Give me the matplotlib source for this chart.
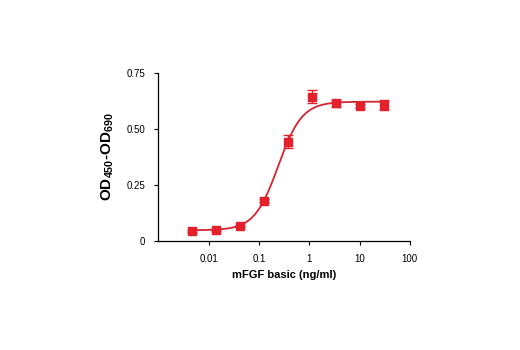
import numpy as np
import matplotlib
matplotlib.use("Agg")
import matplotlib.pyplot as plt

# Data
conc = [0.0046, 0.0137, 0.041, 0.123, 0.37, 1.11, 3.33, 10.0, 30.0]
od = [0.043, 0.049, 0.068, 0.180, 0.443, 0.644, 0.615, 0.604, 0.606]
err = [0.004, 0.003, 0.004, 0.008, 0.030, 0.030, 0.015, 0.008, 0.022]
# 4-parameter logistic fit parameters
fit_bottom = 0.048
fit_top = 0.622
fit_ec50 = 0.238
fit_hill = 1.83
xticks = [0.01, 0.1, 1, 10, 100]
xticklabels = ["0.01", "0.1", "1", "10", "100"]
yticks = [0, 0.25, 0.5, 0.75]
yticklabels = ["0", "0.25", "0.50", "0.75"]

fam = ["Liberation Sans Narrow", "Liberation Sans", "DejaVu Sans"]
plt.rcParams["font.family"] = fam
plt.rcParams["mathtext.fontset"] = "custom"
plt.rcParams["mathtext.rm"] = "Liberation Sans"
plt.rcParams["mathtext.bf"] = "Liberation Sans:bold"

fig = plt.figure(figsize=(5.2, 3.5), dpi=100)
ax = fig.add_axes([0.3038, 0.3114, 0.788 - 0.3038, 0.7914 - 0.3114])

red = "#e3202b"
xc = np.logspace(np.log10(conc[0]), np.log10(conc[-1]), 300)
yc = fit_bottom + (fit_top - fit_bottom) / (1 + (fit_ec50 / xc) ** fit_hill)
ax.plot(xc, yc, color="#d42530", lw=1.3, zorder=2)
ax.errorbar(conc, od, yerr=err, fmt="s", color=red, ms=6, capsize=3.5,
            elinewidth=1, capthick=1, zorder=3)

ax.set_xscale("log")
ax.set_xlim(0.00095, 100)
ax.set_ylim(0, 0.75)
ax.set_xticks(xticks)
ax.set_xticklabels(xticklabels)
ax.minorticks_off()
ax.set_yticks(yticks)
ax.set_yticklabels(yticklabels)
for s in ["top", "right"]:
    ax.spines[s].set_visible(False)
for s in ["left", "bottom"]:
    ax.spines[s].set_linewidth(0.9)
ax.tick_params(axis="both", length=3, width=0.8, labelsize=7, pad=6)

ax.set_xlabel("mFGF basic (ng/ml)", fontsize=8, fontweight="bold", labelpad=5)
ax.set_ylabel(r"OD$_{\mathbf{450}}$-OD$_{\mathbf{690}}$", fontsize=11,
              fontweight="bold", labelpad=8)

fig.savefig("out.png", dpi=100, facecolor="white")
